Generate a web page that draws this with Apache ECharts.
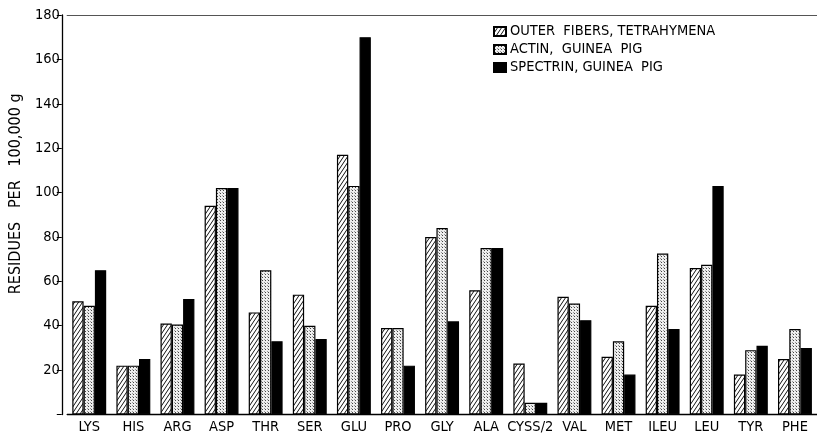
<!DOCTYPE html>
<html>
<head>
<meta charset="utf-8">
<script src="https://cdn.jsdelivr.net/npm/echarts@6/dist/echarts.min.js"></script>
<style>
  html, body { margin: 0; padding: 0; background: #fff; }
  #chart { width: 817px; height: 439px; }
</style>
</head>
<body>
<div id="chart"></div>
<script>
// amino acid categories along the x axis
const categories = ['LYS', 'HIS', 'ARG', 'ASP', 'THR', 'SER', 'GLU', 'PRO', 'GLY', 'ALA', 'CYSS/2', 'VAL', 'MET', 'ILEU', 'LEU', 'TYR', 'PHE']
// residues per 100,000 g
const outerFibers = [51, 22, 41, 94, 46, 54, 117, 39, 80, 56, 23, 53, 26, 49, 66, 18, 25]
const actin = [49, 22, 40.5, 102, 65, 40, 103, 39, 84, 75, 5.3, 50, 33, 72.5, 67.5, 29, 38.5]
const spectrin = [65, 25, 52, 102, 33, 34, 170, 22, 42, 75, 5.3, 42.5, 18, 38.5, 103, 31, 30]
const seriesNames = ['OUTER  FIBERS, TETRAHYMENA', 'ACTIN,  GUINEA  PIG', 'SPECTRIN, GUINEA  PIG']
const yTicks = [20, 40, 60, 80, 100, 120, 140, 160, 180]

const FONT = "'Liberation Sans Narrow', 'DejaVu Sans Condensed', 'Roboto Condensed', sans-serif"

// 1. fill patterns (hatch / stipple)
const makeHatch = () => {
  const c = document.createElement('canvas')
  c.width = 4; c.height = 6
  const ctx = c.getContext('2d')
  ctx.fillStyle = '#fff'
  ctx.fillRect(0, 0, 4, 6)
  ctx.strokeStyle = '#111'
  ctx.lineWidth = 1
  ;[-4, 0, 4].forEach(dx => {
    ctx.beginPath()
    ctx.moveTo(dx, 6)
    ctx.lineTo(dx + 4, 0)
    ctx.stroke()
  })
  return c
}
const makeStipple = () => {
  const c = document.createElement('canvas')
  c.width = 3; c.height = 3
  const ctx = c.getContext('2d')
  ctx.fillStyle = '#eee'
  ctx.fillRect(0, 0, 3, 3)
  ctx.fillStyle = '#444'
  ctx.fillRect(1, 1, 1, 1)
  ctx.fillStyle = '#999'
  ctx.fillRect(0, 0, 1, 1)
  return c
}

const barStyle = (color) => ({
  color: color,
  borderColor: '#000',
  borderWidth: 1.2
})

// 2. chart
const mChart = echarts.init(document.getElementById('chart'))
const options = {
  animation: false,
  backgroundColor: '#fff',
  textStyle: { fontFamily: FONT, color: '#000' },
  grid: {
    left: 64.4,
    right: -5.6,
    top: 15,
    bottom: 24.5
  },
  legend: {
    orient: 'vertical',
    left: 488,
    top: 19,
    itemWidth: 12,
    itemHeight: 9,
    itemGap: 3,
    icon: 'rect',
    data: seriesNames,
    textStyle: { fontFamily: FONT, fontSize: 14.5, color: '#000', padding: [0, 0, 0, -1] }
  },
  xAxis: [{
    type: 'category',
    data: categories,
    axisLine: { lineStyle: { color: '#000', width: 1.3 } },
    axisTick: { show: false },
    axisLabel: { color: '#000', fontSize: 14.5, margin: 5, interval: 0, fontFamily: FONT }
  }, {
    // frame line across the top
    type: 'category',
    position: 'top',
    data: categories,
    axisLine: { lineStyle: { color: '#555', width: 1.2 } },
    axisTick: { show: false },
    axisLabel: { show: false }
  }],
  yAxis: {
    type: 'value',
    min: 0,
    max: 180,
    interval: 20,
    offset: 5.4,
    splitLine: { show: false },
    axisLine: { show: true, lineStyle: { color: '#000', width: 1.3 } },
    axisTick: { show: true, length: 5, lineStyle: { color: '#000' } },
    axisLabel: {
      color: '#000',
      fontSize: 14.5,
      margin: 2,
      fontFamily: FONT,
      formatter: v => (yTicks.includes(v) ? String(v) : '')
    },
    name: 'RESIDUES   PER   100,000 g',
    nameLocation: 'middle',
    nameGap: 35,
    nameTextStyle: { fontSize: 16, color: '#000', fontFamily: FONT, padding: [0, 0, 0, 42] }
  },
  series: [
    {
      name: seriesNames[0],
      type: 'bar',
      data: outerFibers,
      barWidth: 11.3,
      barGap: '0%',
      itemStyle: barStyle({ image: makeHatch(), repeat: 'repeat' })
    },
    {
      name: seriesNames[1],
      type: 'bar',
      data: actin,
      barWidth: 11.3,
      barGap: '0%',
      itemStyle: barStyle({ image: makeStipple(), repeat: 'repeat' })
    },
    {
      name: seriesNames[2],
      type: 'bar',
      data: spectrin,
      barWidth: 11.3,
      barGap: '0%',
      itemStyle: barStyle('#000')
    }
  ]
}
mChart.setOption(options)
</script>
</body>
</html>
